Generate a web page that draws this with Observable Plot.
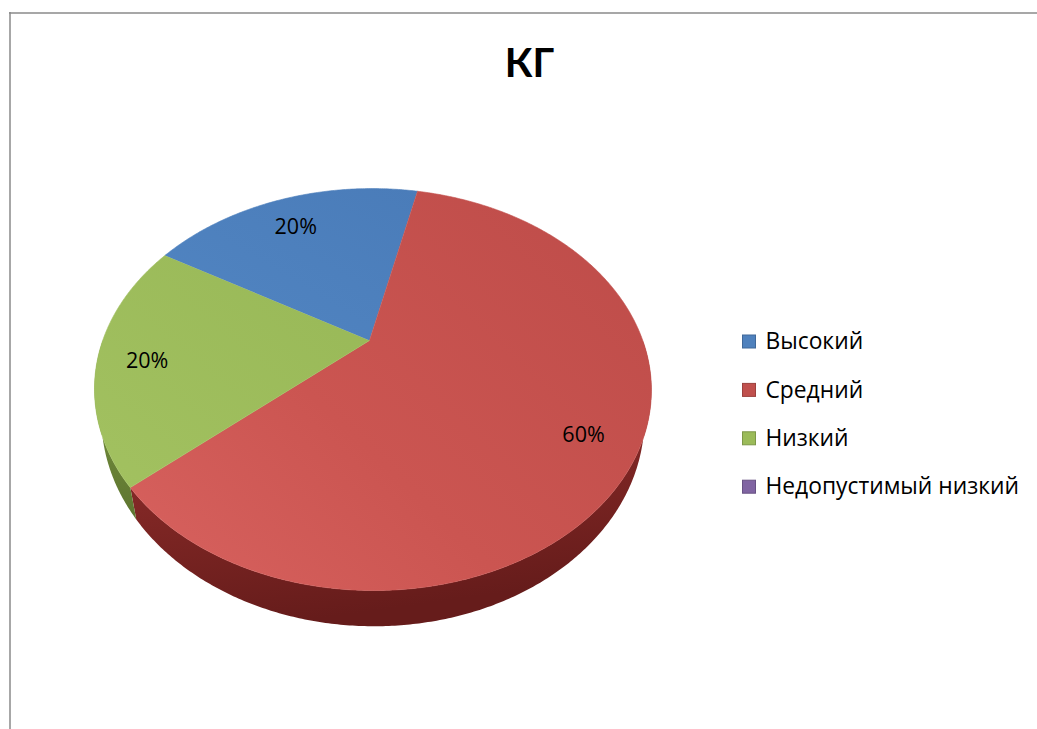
<!DOCTYPE html>
<html>
<head>
<meta charset="utf-8">
<script src="https://cdn.jsdelivr.net/npm/d3@7"></script>
<script src="https://cdn.jsdelivr.net/npm/@observablehq/plot@0.6"></script>
<style>
  html, body { margin: 0; padding: 0; background: #fff; overflow: hidden; }
  #chart svg { display: block; }
</style>
</head>
<body>
<div id="chart"></div>
<script>
// ---- data ----
const title = "КГ";
const categories = ["Высокий", "Средний", "Низкий", "Недопустимый низкий"];
const values = [20, 60, 20, 0];
const colors = ["#4F81BD", "#C0504D", "#9BBB59", "#8064A2"];

// ---- layout / geometry ----
const W = 1037, H = 729;
const cx = 369, cy = 340;      // projected centre of pie
const A = 270, C = 189;        // horizontal / vertical scale of the projected disc
const k = 0.244, j = 0.012;    // perspective strength (depth, lateral)
const D = 27;                  // thickness of the pie
const shrink = 0.975;          // convergence of the lower rim
const startDeg = -59.3;        // first slice start, clockwise from 12 o'clock

function proj(t, r = 1, h = 0) {
  const X = r * Math.cos(t), Z = r * Math.sin(t), w = 1 - k * Z - j * X;
  const s = h ? shrink : 1;
  return [cx + s * A * X / w, cy + (C * Z + D * h) / w];
}
function arcPts(t0, t1, h = 0) {
  const n = Math.max(2, Math.ceil(Math.abs(t1 - t0) / (Math.PI / 360)));
  return d3.range(n + 1).map(i => proj(t0 + (t1 - t0) * i / n, 1, h));
}

const total = d3.sum(values);
const s0 = startDeg * Math.PI / 180;
const arcs = d3.pie().sort(null).value(d => d).startAngle(s0).endAngle(s0 + 2 * Math.PI)(values);

const topFill = ["url(#gBlue)", "url(#gRed)", "url(#gGreen)", "url(#gPurple)"];
const sideFill = ["url(#sBlue)", "url(#sRed)", "url(#sGreen)", "url(#sPurple)"];

const sideMarks = [], topMarks = [], labelData = [];
arcs.forEach((a, i) => {
  if (a.value <= 0) return;
  const t0 = a.startAngle - Math.PI / 2, t1 = a.endAngle - Math.PI / 2;
  // side wall (front half only)
  const lo = Math.max(t0, 0), hi = Math.min(t1, Math.PI);
  if (lo < hi) {
    const pts = arcPts(lo, hi, 0).concat(arcPts(hi, lo, 1));
    sideMarks.push(Plot.line(pts, {x: d => d[0], y: d => d[1], fill: sideFill[i], stroke: "none", curve: "linear"}));
  }
  const pts = [proj(0, 0)].concat(arcPts(t0, t1, 0));
  topMarks.push(Plot.line(pts, {x: d => d[0], y: d => d[1], fill: topFill[i], stroke: topFill[i], strokeWidth: 0.6, curve: "linear"}));
  const tm = (t0 + t1) / 2;
  const p = proj(tm, 0.82);
  labelData.push({x: p[0], y: p[1], text: Math.round(a.value / total * 100) + "%"});
});

const legendY = i => 341.5 + i * 48.4;

const plot = Plot.plot({
  width: W, height: H,
  margin: 0,
  x: {domain: [0, W], range: [0, W], axis: null},
  y: {domain: [0, H], range: [0, H], axis: null},
  style: {fontFamily: "Lato, 'Open Sans', sans-serif", background: "#fff", overflow: "hidden"},
  marks: [
    // chart frame
    Plot.ruleY([12.5], {x1: 9, x2: W, stroke: "#8a8a8a", strokeWidth: 1.5}),
    Plot.ruleX([9.5], {y1: 12, y2: H, stroke: "#8a8a8a", strokeWidth: 1.5}),
    // title
    Plot.text([title], {x: () => 529, y: () => 64, fontSize: 40, fontWeight: "bold", fill: "#000"}),
    ...sideMarks,
    ...topMarks,
    // data labels
    Plot.text(labelData, {x: "x", y: "y", dy: 6, text: "text", fontSize: 21.5, fontFamily: "'Open Sans', sans-serif", fill: "#000"}),
    // legend
    Plot.rect(categories, {
      x1: () => 742.5, x2: () => 755.5,
      y1: (d, i) => legendY(i) - 6.5, y2: (d, i) => legendY(i) + 6.5,
      fill: (d, i) => colors[i],
      stroke: (d, i) => d3.color(colors[i]).darker(0.6).formatHex()
    }),
    Plot.text(categories, {
      x: () => 765, y: (d, i) => legendY(i), text: d => d,
      textAnchor: "start", fontSize: 22.8, fontFamily: "'Open Sans', sans-serif", fill: "#000"
    })
  ]
});

// gradients
const defs = d3.select(plot).insert("defs", ":first-child");
function lin(id, x1, y1, x2, y2, stops) {
  const g = defs.append("linearGradient").attr("id", id)
    .attr("x1", x1).attr("y1", y1).attr("x2", x2).attr("y2", y2);
  stops.forEach(([o, c]) => g.append("stop").attr("offset", o).attr("stop-color", c));
}
lin("gRed", 0, 1, 1, 0.2, [[0, "#D8625F"], [0.45, "#CB5551"], [1, "#BF4D4A"]]);
lin("gBlue", 0, 1, 1, 0, [[0, "#5185C2"], [1, "#4A7CB9"]]);
lin("gGreen", 0, 1, 1, 0, [[0, "#A2C160"], [1, "#98B857"]]);
lin("gPurple", 0, 1, 1, 0, [[0, "#8468A6"], [1, "#7D61A0"]]);
lin("sRed", 0, 0, 0.25, 1, [[0, "#9C3532"], [0.6, "#7E2624"], [1, "#661C1B"]]);
lin("sBlue", 0, 0, 0, 1, [[0, "#3B6494"], [1, "#2B4A70"]]);
lin("sGreen", 0, 0, 0, 1, [[0, "#7E9A43"], [1, "#5E7530"]]);
lin("sPurple", 0, 0, 0, 1, [[0, "#654E82"], [1, "#4A3A60"]]);

document.getElementById("chart").appendChild(plot);
</script>
</body>
</html>
